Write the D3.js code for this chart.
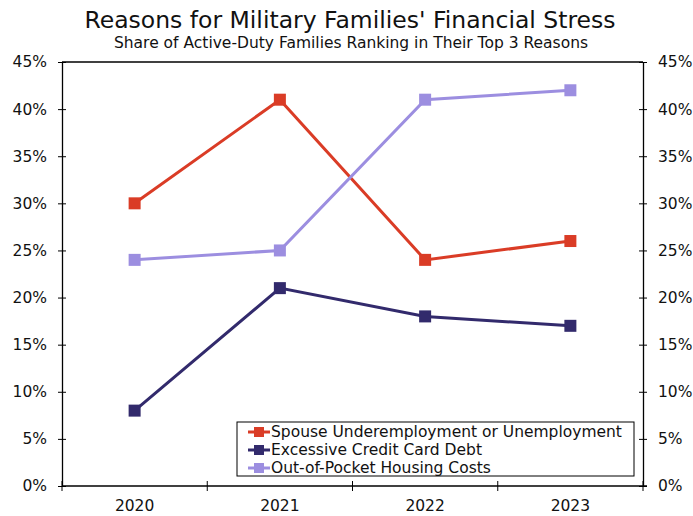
<!DOCTYPE html>
<html>
<head>
<meta charset="utf-8">
<script src="https://cdn.jsdelivr.net/npm/d3@7"></script>
<style>
body { margin: 0; background: #fff; }
svg text { font-family: "DejaVu Sans", Verdana, sans-serif; fill: #111; }
</style>
</head>
<body>
<svg id="chart"></svg>
<script>
var years = ["2020", "2021", "2022", "2023"];
var spouse = [30, 41, 24, 26];
var credit = [8, 21, 18, 17];
var housing = [24, 25, 41, 42];
var seriesNames = ["Spouse Underemployment or Unemployment", "Excessive Credit Card Debt", "Out-of-Pocket Housing Costs"];
var seriesColors = ["#da3c26", "#322a6c", "#9c8ee0"];
var yTicks = [0, 5, 10, 15, 20, 25, 30, 35, 40, 45];

var w = 693, h = 516;
var pLeft = 62, pRight = 643, pTop = 62, pBottom = 486;

var svg = d3.select("#chart").attr("width", w).attr("height", h);

svg.append("text").attr("x", 350).attr("y", 28).attr("text-anchor", "middle")
	.style("font-size", "23.5px").text("Reasons for Military Families' Financial Stress");
svg.append("text").attr("x", 351).attr("y", 48).attr("text-anchor", "middle")
	.style("font-size", "15.5px").text("Share of Active-Duty Families Ranking in Their Top 3 Reasons");

var x = d3.scaleBand().domain(years).range([pLeft, pRight]);
var y = d3.scaleLinear().domain([0, 45]).range([pBottom, pTop]);

function styleAxis(g){
	g.selectAll("path").attr("stroke", "#000").attr("stroke-width", 1.3);
	g.selectAll("line").attr("stroke", "#000").attr("stroke-width", 1);
	g.selectAll("text").style("font-size", "15.5px").attr("fill", "#111");
}

// left axis
var yl = svg.append("g").attr("transform", "translate(" + pLeft + ",0)")
	.call(d3.axisLeft(y).tickValues(yTicks).tickFormat(function(d){ return d + "%"; }).tickSizeOuter(0).tickSizeInner(4).tickPadding(11));
yl.selectAll(".tick line").attr("x2", 4).attr("x1", -4);
styleAxis(yl);

// right axis
var yr = svg.append("g").attr("transform", "translate(" + pRight + ",0)")
	.call(d3.axisRight(y).tickValues(yTicks).tickFormat(function(d){ return d + "%"; }).tickSizeOuter(0).tickSizeInner(4).tickPadding(11));
yr.selectAll(".tick line").attr("x2", -4).attr("x1", 4);
styleAxis(yr);

// bottom axis: ticks on band edges
var xb = svg.append("g").attr("transform", "translate(0," + pBottom + ")");
xb.append("line").attr("x1", pLeft).attr("x2", pRight + 4).attr("stroke", "#000").attr("stroke-width", 1.3);
var edges = years.map(function(d){ return x(d); }).concat([pRight]);
xb.selectAll("line.edge").data(edges).enter().append("line").attr("class", "edge")
	.attr("x1", function(d){ return d; }).attr("x2", function(d){ return d; })
	.attr("y1", -5).attr("y2", 5).attr("stroke", "#000");
xb.selectAll("text.yr").data(years).enter().append("text").attr("class", "yr")
	.attr("x", function(d){ return x(d) + x.bandwidth() / 2; }).attr("y", 25)
	.attr("text-anchor", "middle").style("font-size", "15.5px").text(function(d){ return d; });

// top frame line
svg.append("line").attr("x1", pLeft).attr("x2", pRight).attr("y1", pTop).attr("y2", pTop)
	.attr("stroke", "#000").attr("stroke-width", 1.3);

var series = [spouse, credit, housing];
var line = d3.line()
	.x(function(d, i){ return x(years[i]) + x.bandwidth() / 2; })
	.y(function(d){ return y(d); });

series.forEach(function(s, k){
	svg.append("path").datum(s).attr("d", line).attr("fill", "none")
		.attr("stroke", seriesColors[k]).attr("stroke-width", 3);
	svg.selectAll("rect.m" + k).data(s).enter().append("rect").attr("class", "m" + k)
		.attr("x", function(d, i){ return x(years[i]) + x.bandwidth() / 2 - 6; })
		.attr("y", function(d){ return y(d) - 6; })
		.attr("width", 12).attr("height", 12)
		.attr("fill", seriesColors[k]);
});

// legend
var lg = svg.append("g").attr("transform", "translate(237,422)");
lg.append("rect").attr("width", 397).attr("height", 54).attr("fill", "#fff")
	.attr("stroke", "#000").attr("stroke-width", 1);
seriesNames.forEach(function(n, k){
	var yy = 10 + k * 18;
	lg.append("line").attr("x1", 11).attr("x2", 33).attr("y1", yy).attr("y2", yy)
		.attr("stroke", seriesColors[k]).attr("stroke-width", 3);
	lg.append("rect").attr("x", 17).attr("y", yy - 5).attr("width", 10).attr("height", 10)
		.attr("fill", seriesColors[k]);
	lg.append("text").attr("x", 34).attr("y", yy + 5).style("font-size", "15.5px").text(n);
});
</script>
</body>
</html>
